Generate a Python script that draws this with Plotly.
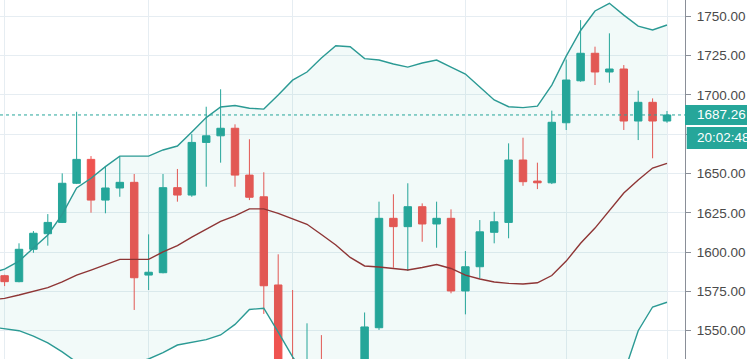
import plotly.graph_objects as go

# ---- data ----
idx = list(range(47))
opens = [1585.0, 1581.2, 1601.8, 1611.7, 1618.9, 1643.8, 1659.0, 1633.1, 1640.8, 1644.4,
         1585.4, 1586.9, 1641.0, 1636.3, 1669.8, 1674.0, 1678.8, 1649.0, 1635.2, 1579.1,
         1512.0, 1495.0, 1508.0, 1490.0, 1500.0, 1495.0, 1551.9, 1621.5, 1616.2, 1628.9,
         1617.9, 1621.5, 1575.3, 1590.7, 1612.6, 1618.9, 1658.6, 1645.2, 1644.1, 1682.3,
         1709.0, 1726.5, 1714.6, 1716.5, 1683.4, 1695.3, 1683.4]
highs = [1585.6, 1605.6, 1613.4, 1624.2, 1650.1, 1689.3, 1661.1, 1654.8, 1660.7, 1649.7,
         1611.3, 1649.7, 1652.9, 1675.1, 1692.5, 1703.6, 1681.3, 1671.8, 1650.8, 1598.6,
         1575.9, 1554.7, 1547.2, 1525.0, 1528.0, 1561.6, 1632.1, 1636.8, 1643.8, 1631.0,
         1632.1, 1627.2, 1600.7, 1620.4, 1625.7, 1669.2, 1672.8, 1656.9, 1690.0, 1722.5,
         1747.6, 1730.7, 1739.2, 1719.0, 1702.7, 1697.8, 1689.8]
lows = [1578.4, 1580.8, 1599.6, 1604.1, 1618.5, 1643.3, 1625.1, 1624.7, 1635.2, 1563.2,
        1575.9, 1586.5, 1632.1, 1635.2, 1641.6, 1656.9, 1641.6, 1633.1, 1560.7, 1500.0,
        1485.0, 1480.0, 1478.0, 1470.0, 1475.0, 1488.0, 1550.5, 1590.1, 1588.0, 1606.6,
        1602.8, 1573.8, 1560.4, 1583.3, 1605.6, 1608.8, 1642.2, 1640.1, 1643.3, 1677.7,
        1708.4, 1706.3, 1707.8, 1677.7, 1671.3, 1659.7, 1682.3]
closes = [1581.2, 1601.8, 1612.0, 1618.9, 1643.8, 1659.0, 1633.1, 1640.8, 1644.4, 1583.7,
          1587.2, 1641.0, 1636.3, 1669.8, 1674.0, 1678.8, 1649.0, 1634.9, 1578.6, 1510.0,
          1495.0, 1508.0, 1490.0, 1500.0, 1495.0, 1552.4, 1621.5, 1616.2, 1628.9, 1617.9,
          1621.5, 1575.3, 1590.7, 1612.9, 1619.3, 1658.6, 1644.8, 1644.1, 1682.6, 1709.5,
          1726.5, 1714.6, 1716.5, 1683.4, 1695.3, 1683.4, 1687.26]

band_x = list(range(-1, 47))
upper = [1586.5,
         1589.2, 1594.3, 1602.6, 1610.9, 1624.0, 1640.8, 1647.0, 1654.4, 1661.1, 1661.1,
         1661.1, 1665.0, 1667.5, 1676.4, 1685.6, 1692.3, 1693.3, 1691.5, 1691.0, 1699.9,
         1709.4, 1714.6, 1723.5, 1731.3, 1730.7, 1723.1, 1722.2, 1719.7, 1717.7, 1720.3,
         1722.2, 1717.7, 1713.3, 1705.0, 1696.8, 1692.5, 1691.9, 1692.9, 1706.3, 1724.7,
         1741.0, 1753.4, 1758.3, 1750.8, 1743.8, 1741.3, 1744.5]
basis = [1569.5,
         1570.6, 1572.7, 1574.9, 1577.4, 1581.0, 1585.4, 1588.6, 1591.8, 1595.4, 1595.4,
         1595.4, 1600.1, 1604.2, 1609.6, 1614.7, 1619.5, 1623.0, 1627.5, 1627.5, 1624.7,
         1621.1, 1617.7, 1611.2, 1604.5, 1596.6, 1591.2, 1590.5, 1589.6, 1588.6, 1590.2,
         1592.1, 1589.6, 1585.4, 1582.9, 1581.0, 1580.1, 1579.7, 1580.5, 1585.1, 1594.3,
         1605.6, 1615.3, 1626.8, 1637.6, 1645.9, 1653.5, 1656.5]
lower = [1552.5,
         1551.2, 1550.0, 1546.6, 1542.2, 1536.5, 1530.0, 1530.2, 1529.2, 1529.7, 1529.7,
         1532.0, 1536.0, 1540.9, 1542.5, 1544.3, 1547.3, 1554.0, 1563.5, 1564.3, 1549.1,
         1533.3, 1520.8, 1498.9, 1477.7, 1462.5, 1459.3, 1458.8, 1459.5, 1459.5, 1460.1,
         1462.0, 1461.5, 1457.5, 1460.8, 1465.2, 1467.7, 1467.5, 1468.1, 1463.9, 1463.9,
         1470.2, 1477.2, 1495.3, 1523.0, 1550.0, 1565.1, 1568.1]

y_ticks = [1550, 1575, 1600, 1625, 1650, 1675, 1700, 1725, 1750]
grid_x = [0, 10, 20, 32, 39, 46]
last_price = 1687.26
countdown = "20:02:48"

UP = "#26a69a"
DOWN = "#ef5350"
BAND = "#2b9a94"
BASIS = "#8e3535"
GRID = "#e6edf2"
FONT = "Liberation Sans"
FSIZE = 13.5

fig = go.Figure()

fig.add_trace(go.Scatter(x=band_x, y=upper, mode="lines",
                         line=dict(color=BAND, width=1.4), hoverinfo="skip"))
fig.add_trace(go.Scatter(x=band_x, y=lower, mode="lines", fill="tonexty",
                         fillcolor="rgba(38,166,154,0.06)",
                         line=dict(color=BAND, width=1.4), hoverinfo="skip"))
fig.add_trace(go.Scatter(x=band_x, y=basis, mode="lines",
                         line=dict(color=BASIS, width=1.4), hoverinfo="skip"))

fig.add_trace(go.Candlestick(
    x=idx, open=opens, high=highs, low=lows, close=closes,
    increasing=dict(line=dict(color=UP, width=1), fillcolor=UP),
    decreasing=dict(line=dict(color=DOWN, width=1), fillcolor=DOWN),
    whiskerwidth=0,
))

fig.add_shape(type="line", xref="paper", x0=0, x1=1, yref="y",
              y0=last_price, y1=last_price,
              line=dict(color=UP, width=1, dash="dot"))
fig.add_shape(type="rect", xref="paper", x0=1, x1=1.2, yref="y",
              ysizemode="pixel", yanchor=last_price, y0=-10, y1=10,
              fillcolor=UP, line=dict(width=0), layer="above")
fig.add_shape(type="rect", xref="paper", x0=1.0025, x1=1.2, yref="y",
              ysizemode="pixel", yanchor=last_price, y0=-34, y1=-12,
              fillcolor=UP, line=dict(width=0), layer="above")

fig.add_annotation(xref="paper", x=1, xanchor="left", xshift=10,
                   yref="y", y=last_price, yanchor="middle",
                   text=f"{last_price:.2f}", showarrow=False,
                   font=dict(family=FONT, size=FSIZE, color="white"))
fig.add_annotation(xref="paper", x=1, xanchor="left", xshift=10,
                   yref="y", y=last_price, yanchor="middle", yshift=-23,
                   text=countdown, showarrow=False,
                   font=dict(family=FONT, size=FSIZE, color="white"))

fig.update_layout(
    template="none",
    width=747, height=359,
    margin=dict(l=0, r=62, t=0, b=0),
    paper_bgcolor="white", plot_bgcolor="white",
    showlegend=False,
    boxgap=0.26,
    font=dict(family=FONT, size=FSIZE, color="#4a4a4a"),
    xaxis=dict(range=[-0.32, 47.25], tickvals=grid_x, showticklabels=False,
               showgrid=True, gridcolor=GRID, gridwidth=1, zeroline=False,
               ticks="", showline=False, automargin=False,
               rangeslider=dict(visible=False)),
    yaxis=dict(side="right", range=[1532.0, 1760.4], tickvals=y_ticks,
               tickformat=".2f", showgrid=True, gridcolor=GRID, gridwidth=1,
               zeroline=False, ticks="outside", ticklen=5, tickcolor="#8a8f98",
               showline=True, linecolor="#8a8f98", linewidth=1,
               automargin=False, ticklabelstandoff=3,
               tickfont=dict(family=FONT, size=FSIZE, color="#4a4a4a")),
)

fig.write_html("out.html",
               config={"displayModeBar": False},
               post_script="document.body.style.margin='0';document.body.style.overflow='hidden';")
